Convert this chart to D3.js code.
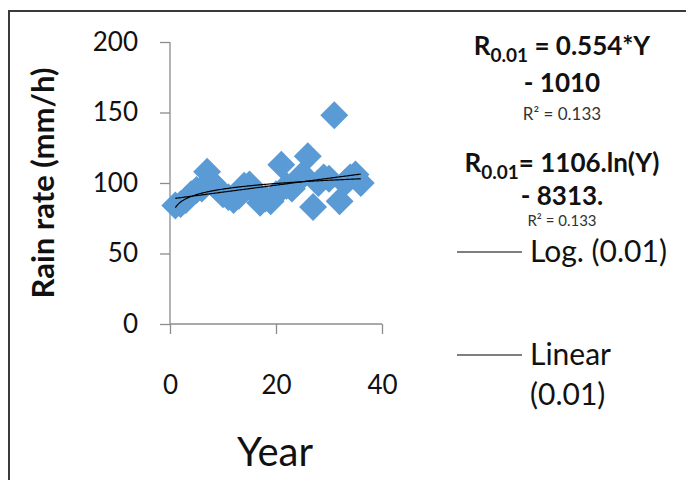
<!DOCTYPE html>
<html>
<head>
<meta charset="utf-8">
<script src="https://cdn.jsdelivr.net/npm/d3@7"></script>
<style>
  body { margin: 0; background: #fff; }
  svg { display: block; font-family: Lato, "Open Sans", sans-serif; }
</style>
</head>
<body>
<div id="chart"></div>
<script>
// year index (1..36) and the 0.01% rain rate
var years = [1, 2, 3, 4, 5, 6, 7, 8, 9, 10, 11, 12, 13, 14, 15, 16, 17, 18,
             19, 20, 21, 22, 23, 24, 25, 26, 27, 28, 29, 30, 31, 32, 33, 34, 35, 36];
var rainRate = [84, 85, 88, 92, 95, 96, 108, 100, 96, 92, 90, 88, 91, 98, 99, 94, 86, 89,
                87, 92, 113, 98, 96, 101, 106, 119, 83, 100, 104, 103, 148, 87, 100, 104, 106, 100];
var yTicks = [0, 50, 100, 150, 200];
var xTicks = [0, 20, 40];
var linearEq = ["R", "0.01", " = 0.554*Y", "- 1010", "R\u00b2 = 0.133"];
var logEq = ["R", "0.01", "= 1106.ln(Y)", "- 8313.", "R\u00b2 = 0.133"];
var legendLabels = [["Log. (0.01)"], ["Linear", "(0.01)"]];

var W = 686, H = 480;
var svg = d3.select("#chart").append("svg").attr("width", W).attr("height", H);

// outer frame
svg.append("rect")
    .attr("x", 9).attr("y", 11)
    .attr("width", 720).attr("height", 520)
    .attr("fill", "none").attr("stroke", "#3a3a3a").attr("stroke-width", 2);

var x = d3.scaleLinear().domain([0, 40]).range([170, 382]);
var y = d3.scaleLinear().domain([0, 200]).range([324, 42]);
var axisColor = "#8c8c8c";

// y axis
var gy = svg.append("g").attr("transform", "translate(170,0)")
    .call(d3.axisLeft(y).tickValues(yTicks).tickSize(10).tickPadding(22));
// x axis
var gx = svg.append("g").attr("transform", "translate(0,324)")
    .call(d3.axisBottom(x).tickValues(xTicks).tickSize(10).tickPadding(42));
[gx, gy].forEach(function(g) {
  g.select(".domain").attr("stroke", axisColor).attr("stroke-width", 1.3);
  g.selectAll(".tick line").attr("stroke", axisColor).attr("stroke-width", 1.3);
  g.selectAll(".tick text").attr("fill", "#111").style("font-size", "26px")
    .style("font-family", "Lato, 'Open Sans', sans-serif");
});
gy.select(".domain").attr("d", "M0," + y(200) + "V" + y(0));
gx.select(".domain").attr("d", "M" + x(0) + ",0H" + x(40));

// axis titles
svg.append("text")
    .attr("transform", "translate(54,183) rotate(-90)")
    .attr("text-anchor", "middle")
    .style("font-size", "31px").style("font-weight", "bold")
    .attr("fill", "#111")
    .text("Rain rate (mm/h)");
svg.append("text")
    .attr("x", 275).attr("y", 466)
    .attr("text-anchor", "middle")
    .style("font-size", "40px").attr("fill", "#111")
    .text("Year");

// scatter points
var pts = years.map(function(d, i) { return { x: d, y: rainRate[i] }; });
var sym = d3.symbol().type(d3.symbolSquare).size(390);
svg.append("g").selectAll("path")
  .data(pts)
  .enter().append("path")
    .attr("d", sym)
    .attr("fill", "#5b9bd5")
    .attr("transform", function(d) {
      return "translate(" + x(d.x) + "," + y(d.y) + ") rotate(45)"; });

// least-squares fits: linear in x and in ln(x)
function fit(fx) {
  var xs = pts.map(function(d) { return fx(d.x); });
  var mx = d3.mean(xs), my = d3.mean(pts, function(d) { return d.y; });
  var sxy = 0, sxx = 0;
  xs.forEach(function(v, i) { sxy += (v - mx) * (pts[i].y - my); sxx += (v - mx) * (v - mx); });
  var b = sxy / sxx;
  return function(v) { return my + b * (fx(v) - mx); };
}
var linFit = fit(function(v) { return v; });
var logFit = fit(Math.log);
var xs = d3.range(d3.min(years), d3.max(years) + 0.001, 0.25);
var line = d3.line().x(function(d) { return x(d[0]); }).y(function(d) { return y(d[1]); });
[linFit, logFit].forEach(function(f) {
  svg.append("path")
      .attr("d", line(xs.map(function(v) { return [v, f(v)]; })))
      .attr("fill", "none").attr("stroke", "#000").attr("stroke-width", 1.2);
});

// equations (baselines for: main line, continuation, R²) and R² size
function equation(eq, rows, r2size) {
  var t = svg.append("text").attr("x", 562).attr("y", rows[0])
      .attr("text-anchor", "middle").style("font-size", "26px")
      .style("font-weight", "bold").attr("fill", "#111");
  t.append("tspan").text(eq[0]);
  t.append("tspan").attr("dy", 7).style("font-size", "19px").text(eq[1]);
  t.append("tspan").attr("dy", -7).text(eq[2]);
  svg.append("text").attr("x", 562).attr("y", rows[1])
      .attr("text-anchor", "middle").style("font-size", "26px")
      .style("font-weight", "bold").attr("fill", "#111").text(eq[3]);
  svg.append("text").attr("x", 562).attr("y", rows[2])
      .attr("text-anchor", "middle").style("font-size", r2size)
      .attr("fill", "#333").text(eq[4]);
}
equation(linearEq, [55, 92, 120], "17px");
equation(logEq, [172, 205, 226], "15px");

// legend
var legendY = [252, 355];
legendLabels.forEach(function(lbl, i) {
  svg.append("line")
      .attr("x1", 457).attr("x2", 522)
      .attr("y1", legendY[i]).attr("y2", legendY[i])
      .attr("stroke", "#000").attr("stroke-width", 1.2);
  lbl.forEach(function(s, j) {
    svg.append("text").attr("x", 530).attr("y", legendY[i] + 10 + j * 40)
        .style("font-size", "30px").attr("fill", "#111").text(s);
  });
});
</script>
</body>
</html>
